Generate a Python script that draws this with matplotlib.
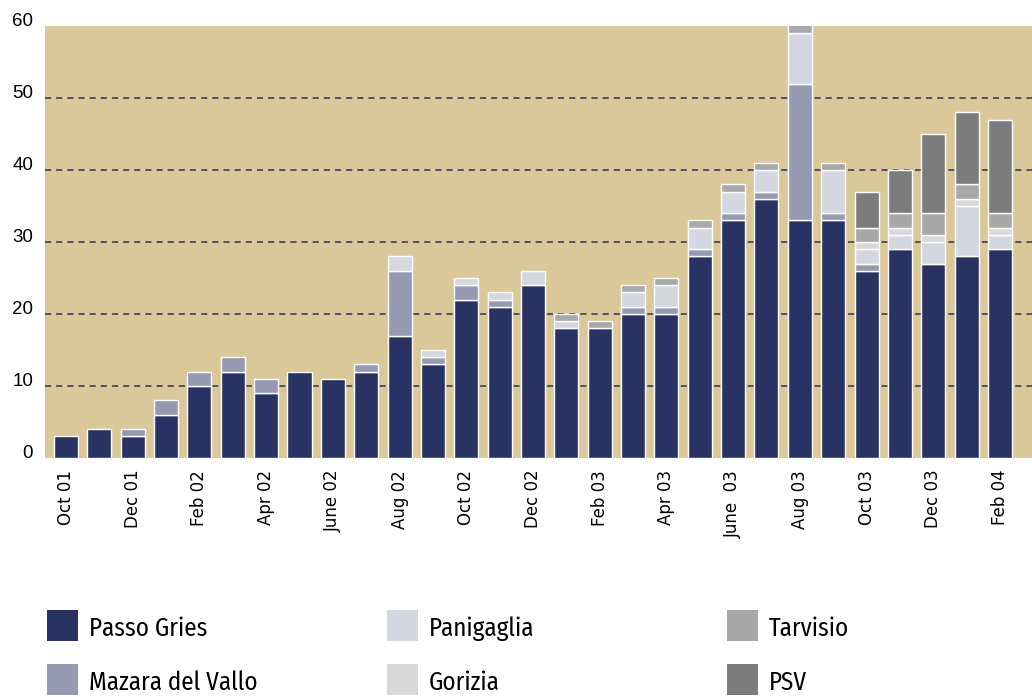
import numpy as np
import matplotlib
matplotlib.use("Agg")
import matplotlib.pyplot as plt
from matplotlib.patches import Rectangle
from matplotlib.transforms import ScaledTranslation

months = ["Oct 01", "Nov 01", "Dec 01", "Jan 02", "Feb 02", "Mar 02", "Apr 02",
          "May 02", "June 02", "July 02", "Aug 02", "Sep 02", "Oct 02", "Nov 02",
          "Dec 02", "Jan 03", "Feb 03", "Mar 03", "Apr 03", "May 03", "June  03",
          "July 03", "Aug 03", "Sep 03", "Oct 03", "Nov 03", "Dec 03", "Jan 04",
          "Feb 04"]

passo_gries = [3, 4, 3, 6, 10, 12, 9, 12, 11, 12, 17, 13, 22, 21, 24, 18, 18,
               20, 20, 28, 33, 36, 33, 33, 26, 29, 27, 28, 29]
mazara = [0, 0, 1, 2, 2, 2, 2, 0, 0, 1, 9, 1, 2, 1, 0, 0, 0,
          1, 1, 1, 1, 1, 19, 1, 1, 0, 0, 0, 0]
panigaglia = [0, 0, 0, 0, 0, 0, 0, 0, 0, 0, 2, 1, 1, 1, 2, 1, 0,
              2, 3, 3, 3, 3, 7, 6, 2, 2, 3, 7, 2]
gorizia = [0, 0, 0, 0, 0, 0, 0, 0, 0, 0, 0, 0, 0, 0, 0, 0, 0,
           0, 0, 0, 0, 0, 0, 0, 1, 1, 1, 1, 1]
tarvisio = [0, 0, 0, 0, 0, 0, 0, 0, 0, 0, 0, 0, 0, 0, 0, 1, 1,
            1, 1, 1, 1, 1, 2, 1, 2, 2, 3, 2, 2]
psv = [0, 0, 0, 0, 0, 0, 0, 0, 0, 0, 0, 0, 0, 0, 0, 0, 0,
       0, 0, 0, 0, 0, 0, 0, 5, 6, 11, 10, 13]

series = ["Passo Gries", "Mazara del Vallo", "Panigaglia", "Gorizia", "Tarvisio", "PSV"]
colors = ["#283263", "#959ab2", "#d5d7e0", "#d8d8d8", "#a8a8a8", "#7c7c7c"]
yticks = [0, 10, 20, 30, 40, 50, 60]

legend_font = ["Fira Sans Condensed", "Roboto Condensed", "Archivo Narrow",
               "PT Sans Narrow", "Liberation Sans Narrow", "DejaVu Sans"]

W, H = 1032, 697
fig = plt.figure(figsize=(W / 100, H / 100), dpi=100)
ax = fig.add_axes([45 / W, 1 - 458 / H, 987 / W, 432 / H])
ax.set_facecolor("#dbc89a")

x = np.arange(len(months))
bottom = np.zeros(len(months))
for vals, c in zip([passo_gries, mazara, panigaglia, gorizia, tarvisio, psv], colors):
    v = np.array(vals, dtype=float)
    m = v > 0
    ax.bar(x[m], v[m], bottom=bottom[m], width=0.72, color=c,
           edgecolor="white", linewidth=1.0, zorder=3)
    bottom += v

for y in yticks[1:-1]:
    ax.axhline(y, color="#283263", lw=1.1, ls=(0, (4, 3.3)), zorder=1)

ax.set_xlim(-0.63, 28.96)
ax.set_ylim(0, 60)
for s in ax.spines.values():
    s.set_visible(False)

ax.set_xticks(x[::2])
ax.set_xticklabels(months[::2], rotation=90, fontsize=12, family="DejaVu Sans",
                   va="top", ha="center")
ax.set_yticks(yticks)
ax.set_yticklabels([str(t) for t in yticks], fontsize=13.5, family="Liberation Sans")
ax.tick_params(axis="x", length=0, pad=8.5)
ax.tick_params(axis="y", length=0, pad=8.5)
shift = ScaledTranslation(0, 6.5 / 100, fig.dpi_scale_trans)
for lab in ax.get_yticklabels():
    lab.set_transform(lab.get_transform() + shift)

# legend, 3 columns x 2 rows
col_x = [47, 387, 727]
row_y = [610, 664]
for i, (name, c) in enumerate(zip(series, colors)):
    cx = col_x[i // 2]
    ry = row_y[i % 2]
    fig.add_artist(Rectangle((cx / W, 1 - (ry + 31) / H), 31 / W, 31 / H,
                             transform=fig.transFigure, facecolor=c, edgecolor="none"))
    fig.text((cx + 42) / W, 1 - (ry + 26) / H, name, fontsize=18,
             family=legend_font, va="baseline", ha="left")

fig.savefig("out.png", dpi=100, facecolor="white")
